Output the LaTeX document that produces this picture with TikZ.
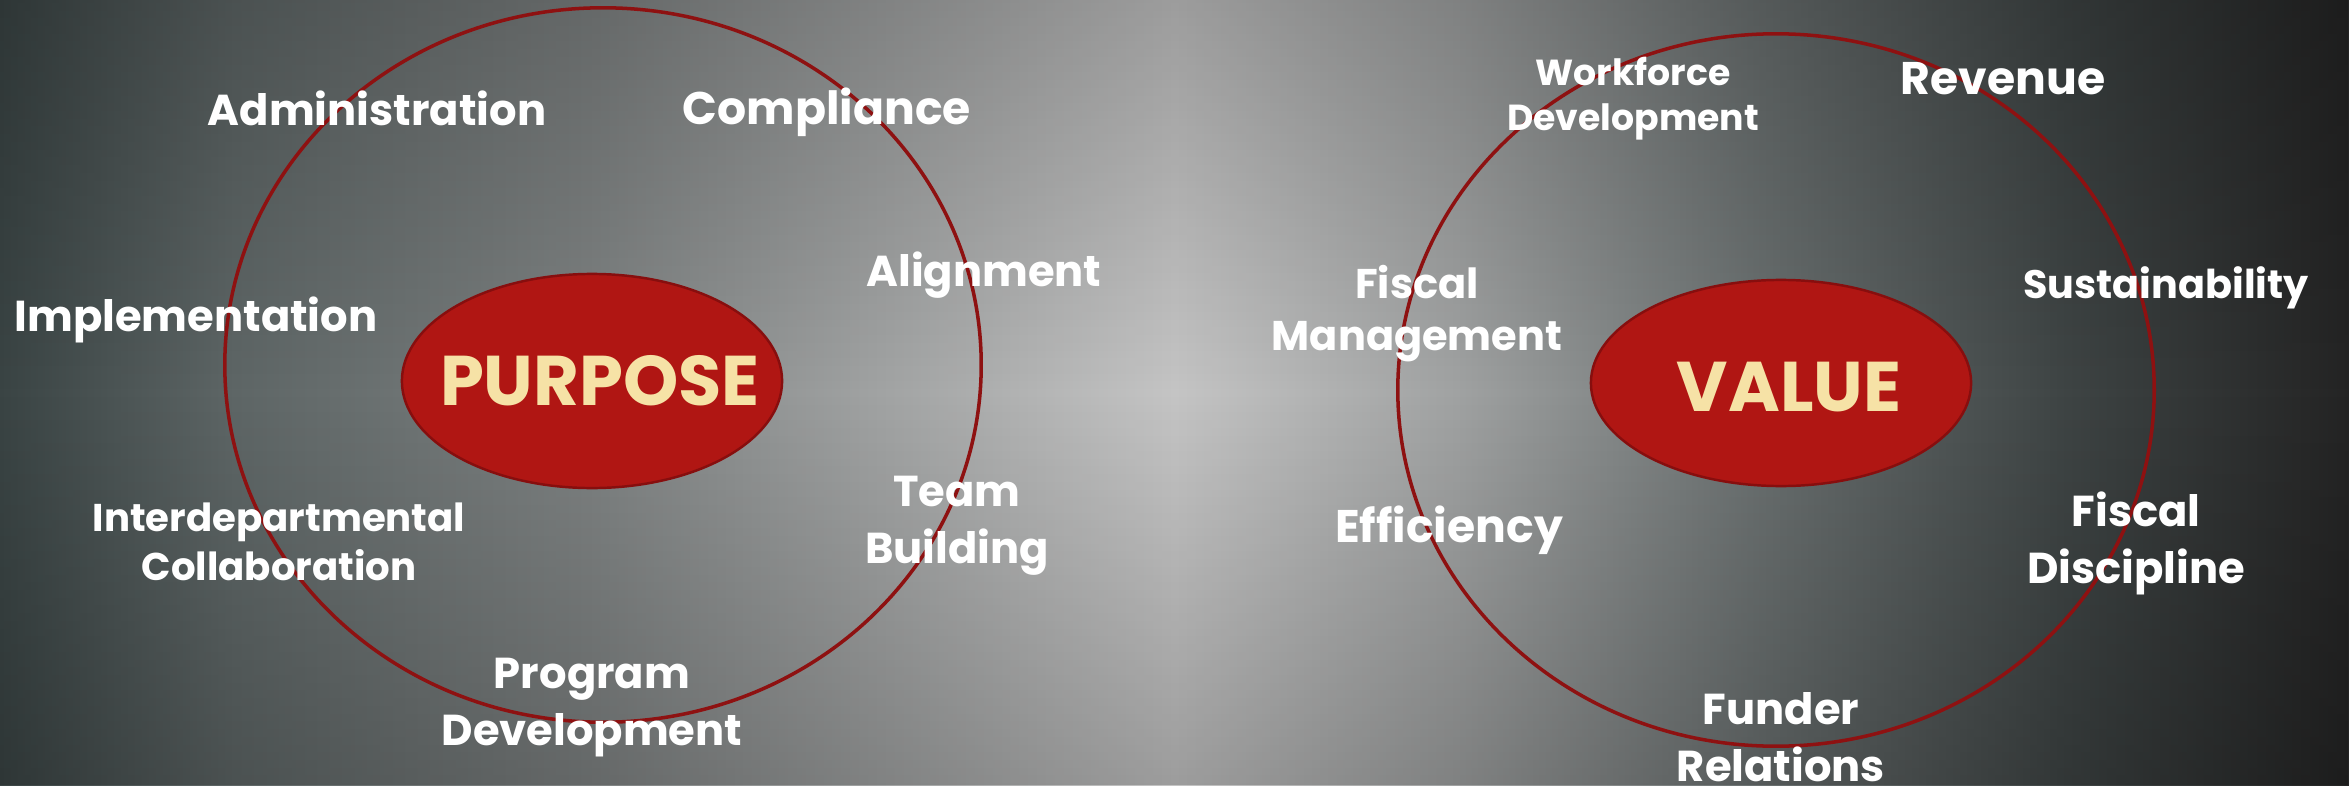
\documentclass[tikz,border=0pt]{standalone}
\usepackage{fontspec}
\setmainfont{Poppins}
\usetikzlibrary{shapes.geometric,fadings}

\definecolor{ringred}{HTML}{8E1111}
\definecolor{corered}{HTML}{B01613}
\definecolor{coreedge}{HTML}{870E0E}
\definecolor{coretext}{HTML}{F6E2A6}
\definecolor{bga}{HTML}{3A4444}
\definecolor{bgb}{HTML}{5E6666}
\definecolor{bgc}{HTML}{7E8282}
\definecolor{bgd}{HTML}{C4C4C4}
\definecolor{bge}{HTML}{A0A2A2}
\definecolor{bgf}{HTML}{6A7070}
\definecolor{bgg}{HTML}{3E4444}
\definecolor{bgh}{HTML}{242424}

% visible part of the shading runs from 25bp to 75bp
\pgfdeclarehorizontalshading{slate}{100bp}{color(0bp)=(bga); color(25bp)=(bga);
  color(30bp)=(bgb); color(37.5bp)=(bgc); color(50bp)=(bgd); color(56bp)=(bge);
  color(62.5bp)=(bgf); color(69bp)=(bgg); color(75bp)=(bgh); color(100bp)=(bgh)}
\tikzfading[name=edgefade, top color=transparent!0, bottom color=transparent!0,
  middle color=transparent!100]

\tikzset{
  ring/.style={draw=ringred, line width=1pt, ellipse, inner sep=0pt},
  core/.style={ellipse, fill=corered, draw=coreedge, line width=0.7pt, inner sep=0pt},
  corelbl/.style={text=coretext, inner sep=0pt, font=\fontsize{20}{24}\selectfont\bfseries},
  lbl/.style={text=white, align=center, inner sep=0pt,
    font=\fontsize{12.3}{16.2}\selectfont\bfseries},
  big lbl/.style={lbl, font=\fontsize{13}{16.2}\selectfont\bfseries},
  small lbl/.style={lbl, font=\fontsize{10.3}{12.8}\selectfont\bfseries}
}

\begin{document}
\begin{tikzpicture}[x=0.01cm, y=-0.01cm]
  \useasboundingbox (0,0) rectangle (2349,785);
  \shade[shading=slate] (0,0) rectangle (2349,785); % backdrop
  \fill[black, opacity=0.2, path fading=edgefade] (0,0) rectangle (2349,785);

  % left group
  \node[ring, minimum width=7.56cm, minimum height=7.14cm] (purposering) at (603,365) {};
  \node[core, minimum width=3.8cm, minimum height=2.14cm] (purpose) at (592,381) {};
  \node[corelbl] (purposetext) at (600,381) {PURPOSE};
  \node[lbl] (admin) at (377,108) {Administration};
  \node[big lbl] (compliance) at (827,112) {Compliance};
  \node[lbl] (implementation) at (196,320) {Implementation};
  \node[lbl] (alignment) at (984,275) {Alignment};
  \node[lbl, font=\fontsize{11}{13.8}\selectfont\bfseries] (interdept) at (279,542) {Interdepartmental\\Collaboration};
  \node[lbl] (team) at (957,526) {Team\\Building};
  \node[lbl] (program) at (592,708) {Program\\Development};

  % right group
  \node[ring, minimum width=7.56cm, minimum height=7.12cm] (valuering) at (1776,390) {};
  \node[core, minimum width=3.8cm, minimum height=2.06cm] (value) at (1781,383) {};
  \node[corelbl] (valuetext) at (1789,387) {VALUE};
  \node[small lbl] (workforce) at (1633,99) {Workforce\\Development};
  \node[big lbl] (revenue) at (2003,79) {Revenue};
  \node[lbl, font=\fontsize{11.8}{14.8}\selectfont\bfseries] (fiscalmgmt) at (1417,314) {Fiscal\\Management};
  \node[lbl, font=\fontsize{11.3}{14}\selectfont\bfseries] (sustain) at (2166,288) {Sustainability};
  \node[big lbl] (efficiency) at (1449,530) {Efficiency};
  \node[lbl] (discipline) at (2136,543) {Fiscal\\Discipline};
  \node[lbl] (funder) at (1781,737) {Funder\\Relations};
\end{tikzpicture}
\end{document}
